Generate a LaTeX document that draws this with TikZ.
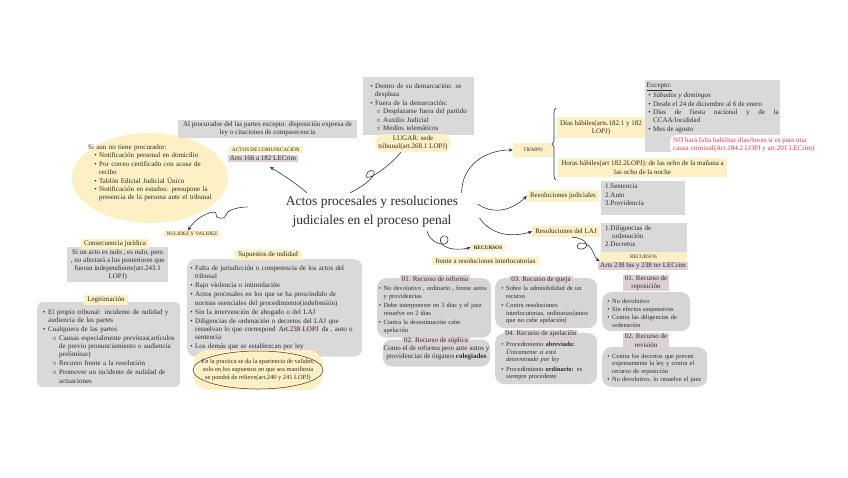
\documentclass[tikz,border=0pt]{standalone}
\usepackage{fontspec}
\setmainfont{Liberation Serif}
\usetikzlibrary{shapes.geometric,arrows.meta,decorations.pathreplacing}

\definecolor{ybg}{HTML}{FCF0C4}
\definecolor{gbg}{HTML}{D9D9D9}
\definecolor{rbg}{HTML}{D7D4D4}
\definecolor{pbg}{HTML}{DDD0D5}
\definecolor{txt}{HTML}{2B2B2B}
\definecolor{nred}{HTML}{E4384F}
\definecolor{lnk}{HTML}{333333}

\newcommand{\fs}{\fontsize{7}{8.2}\selectfont}
\newcommand{\fsr}{\fontsize{6.4}{7.5}\selectfont}
\newcommand{\fcap}{\fontsize{5.2}{7}\selectfont}
\newlength{\bw}
\setlength{\bw}{8pt}
\newlength{\sw}
\setlength{\sw}{16pt}
\newlength{\isp}
\setlength{\isp}{0.6pt}
\newcommand{\bitem}[1]{\par\vspace{\isp}\noindent\hangindent=\bw\hangafter=1\hbox to \bw{\hss\textbullet\hspace{2.5pt}}#1}
\newcommand{\sitem}[1]{\par\vspace{\isp}\noindent\hangindent=\sw\hangafter=1\hbox to \sw{\hss$\circ$\hspace{2.5pt}}#1}
\newcommand{\padb}[1]{\par\nointerlineskip\vbox to #1{}}

\begin{document}
\begin{tikzpicture}[x=1pt, y=-1pt, font=\fs,
    every node/.append style={text=txt},
    ylab/.style={fill=ybg, inner xsep=3pt, inner ysep=1.5pt},
    plab/.style={fill=pbg, inner xsep=2pt, inner ysep=1pt},
    gbox/.style={fill=gbg, anchor=north west, align=left, inner sep=3pt},
    rbox/.style={fill=rbg, anchor=north west, align=left, inner sep=3pt, rounded corners=9pt, font=\fsr},
    arr/.style={draw=lnk, line width=0.6pt, -{Stealth[length=4pt, width=3.5pt]}},
    hand/.style={draw=lnk, line width=0.5pt}]

  \useasboundingbox (0,0) rectangle (848,477);
  \fill[white] (0,0) rectangle (848,477);

  \node[ellipse, fill=ybg, minimum width=156pt, minimum height=90pt] (procell) at (150,178) {};
  \node[anchor=north west, text width=134pt, align=left, inner sep=3pt] (proctxt) at (85,141) {\setlength{\bw}{11pt}\setlength{\isp}{0.4pt}Si aun no tiene procurador:
    \bitem{Notificación personal en domicilio}
    \bitem{Por correo certificado con acuse de\newline recibo}
    \bitem{Tablón Edictal Judicial Único}
    \bitem{Notificación en estados: presupone la\newline presencia de la persona ante el tribunal}\par};

  \node[gbox, anchor=center, align=center, minimum width=179pt, minimum height=18pt, inner ysep=1pt] (procur) at (267.5,129) {Al procurador del las partes excepto: disposición expresa de\\ley o citaciones de comparecencia};
  \node[ylab] (actos) at (266,149.5) {\fcap ACTOS DE COMUNICACIÓN};
  \node[plab] (actosart) at (263,158.5) {Arts 166 a 182 LECrim};

  \node[gbox, text width=105pt] (lugarlist) at (363,77) {\setlength{\bw}{9pt}\setlength{\sw}{17pt}\setlength{\isp}{0.2pt}
    \bitem{Dentro de su demarcación: se\newline desplaza}
    \bitem{Fuera de la demarcación:}
    \sitem{Desplazarse fuera del partido}
    \sitem{Auxilio Judicial}
    \sitem{Medios telemáticos}\padb{2pt}};
  \node[ylab, rounded corners=8pt, minimum width=70pt, minimum height=18pt, align=center, inner ysep=1pt] (lugar) at (413,143) {LUGAR: sede\\tribunal(art.268.1 LOPJ)};

  \node[align=center, font=\fontsize{13.5}{19}\selectfont] (title) at (372,212) {Actos procesales y resoluciones\\judiciales en el proceso penal};

  \node[ylab] (nulidad) at (192,234) {\fcap NULIDEZ Y VALIDEZ};
  \node[gbox, align=center, minimum width=101pt, inner xsep=2pt, inner ysep=2pt] (conseq) at (67,247) {Si un acto es nulo , es nulo, pero\\, no afectará a los posteriores que\\fueran independiente(art.243.1\\LOPJ)};
  \node[ylab] (conslab) at (115,244) {Consecuencia jurídica};

  \node[gbox, rounded corners=5pt, text width=139pt, inner xsep=2pt] (legit) at (37,302) {\setlength{\bw}{9pt}\setlength{\sw}{20pt}\setlength{\isp}{0.8pt}
    \bitem{El propio tribunal: incidente de nulidad y\newline audiencia de las partes}
    \bitem{Cualquiera de las partes}
    \sitem{Causas especialmente previstas(artículos\newline de previo pronunciamiento o audiencia\newline preliminar)}
    \sitem{Recurso frente a la resolución}
    \sitem{Promover un incidente de nulidad de\newline actuaciones}\padb{1pt}};
  \node[ylab] (legilab) at (106,300) {Legitimación};

  \node[gbox, rounded corners=8pt, text width=173pt, inner xsep=1pt, inner ysep=2.5pt] (supu) at (187,259) {\setlength{\bw}{7pt}\setlength{\isp}{0.8pt}\setlength{\fboxsep}{0.8pt}
    \bitem{Falta de jurisdicción o competencia de los actos del\newline tribunal}
    \bitem{Bajo violencia o intimidación}
    \bitem{Actos procesales en los que se ha prescindido de\newline normas esenciales del procedimiento(indefensión)}
    \bitem{Sin la intervención de abogado o del LAJ}
    \bitem{Diligencias de ordenación o decretos del LAJ que\newline resuelvan lo que correspond \colorbox{pbg}{Art.238 LOPJ} da , auto o\newline sentencia}
    \bitem{Los demás que \underline{se establezcan} \underline{por ley}}\padb{2pt}};
  \node[ylab] (supulab) at (268,255) {Supuestos de nulidad};

  \node[ylab, rounded corners=14pt, minimum width=129pt, minimum height=40pt, align=center, inner ysep=1pt, font=\fontsize{6.4}{8.4}\selectfont] (practica) at (258,370) {En la practica se da la apariencia de validez,\\solo en los supuestos en que sea manifiesta\\se pondrá de relieve(art.240 y 241 LOPJ)};
  \draw[hand] (practica.center) ellipse (65pt and 19pt);

  \node[ylab] (recur) at (488,247.5) {\fcap\bfseries RECURSOS};
  \node[ylab] (interloc) at (485.5,261) {frente a resoluciones interlocutorias};

  \node[rbox, text width=112pt, inner xsep=1pt] (reforma) at (377,278) {\setlength{\bw}{5.5pt}\setlength{\isp}{2pt}
    \bitem{No devolutivo , ordinario , frente autos\newline y providencias}
    \bitem{Debe interponerse en 3 días y el juez\newline resuelve en 2 días}
    \bitem{Contra la desestimación cabe\newline apelación}\padb{1pt}};
  \node[plab] (reflab) at (435,279) {01. Recurso de reforma};

  \node[rbox, anchor=center, align=center, font=\fs, minimum width=103pt, minimum height=27pt, inner xsep=1pt, inner ysep=1pt] (suplica) at (436.5,353) {Como el de reforma pero ante autos y\\providencias de órganos \textbf{colegiados}};
  \node[plab] (suplab) at (436,340.5) {02. Recurso de súplica};

  \node[rbox, text width=100pt, inner xsep=1pt] (queja) at (495,278) {\setlength{\bw}{10pt}\setlength{\isp}{2pt}
    \bitem{Sobre la admisibilidad de un\newline recurso}
    \bitem{Contra resoluciones\newline interlocutorias, ordinarias(autos\newline que no cabe apelación)}\padb{1pt}};
  \node[plab] (quejalab) at (541,280) {03. Recurso de queja};

  \node[rbox, text width=100pt, inner xsep=1pt, inner ysep=4pt] (apela) at (495,333) {\setlength{\bw}{10pt}\setlength{\isp}{2pt}
    \bitem{Procedimiento \textbf{abreviado:}\newline\textit{Únicamente si está}\newline\textit{determinado por ley}}
    \bitem{Procedimiento \textbf{ordinario:} es\newline siempre procedente}\par};
  \node[plab] (apelalab) at (541,334) {04. Recurso de apelación};

  \node[ylab, minimum width=40pt, minimum height=14pt] (tiempo) at (533,150) {\fcap TIEMPO};
  \draw[draw=lnk, line width=0.7pt, decorate, decoration={brace, amplitude=4pt}] (556,180) -- (556,108);
  \node[ylab, align=center, minimum width=82pt, minimum height=21pt, inner ysep=1pt] (habdias) at (601,127.5) {Días hábiles(arts.182.1 y 182\\LOPJ)};
  \node[gbox, align=justify, text width=132pt, inner xsep=1.5pt] (excepto) at (645,80) {\setlength{\bw}{6.5pt}\setlength{\isp}{0.4pt}\underline{Excepto:}
    \bitem{\textit{Sábados y domingos}}
    \bitem{Desde el 24 de diciembre al 6 de enero}
    \bitem{Días de fiesta nacional y de la CCAA/localidad}
    \bitem{Mes de agosto}\padb{16pt}};
  \node[fill=white, rounded corners=5pt, anchor=north west, align=left, minimum width=143pt, inner xsep=3pt, inner ysep=2pt, text=nred] (nota) at (670,135) {NO hará falta habilitar días/horas si es para una\\causa criminal(Art.184.2 LOPJ y art.201 LECrim)};
  \node[ylab, align=center, minimum width=161pt, minimum height=19pt, inner ysep=1pt] (habhoras) at (642.5,167.5) {Horas hábiles(art 182.2LOPJ): de las ocho de la mañana a\\las ocho de la noche};

  \node[ylab, minimum height=12pt] (resjud) at (563,196) {Resoluciones judiciales};
  \node[gbox, text width=76pt, inner xsep=4pt] (sentbox) at (601,181) {1.Sentencia\par 2.Auto\par 3.Providencia\padb{7pt}};
  \node[ylab, minimum height=11pt] (reslaj) at (566,231.5) {Resoluciones del LAJ};
  \node[gbox, text width=78pt, inner xsep=4pt, inner ysep=2.5pt] (diligbox) at (601,223) {\hangindent=7pt\hangafter=1 1.Diligencias de\newline ordenación\par 2.Decretos\padb{3pt}};
  \node[ylab, anchor=north, minimum width=87pt, text height=5pt, text depth=10pt] (recurlaj) at (643.5,252) {\fcap RECURSOS};
  \node[plab] (recurlajart) at (643,266) {Arts 238 bis y 238 ter LECrim};

  \node[plab, align=center] (repolab) at (646,283) {01. Recurso de\\reposición};
  \node[rbox, text width=86pt, inner xsep=1pt] (repo) at (602,292) {\setlength{\bw}{9pt}\setlength{\isp}{0.6pt}
    \bitem{No devolutivo}
    \bitem{Sin efectos suspensivos}
    \bitem{Contra las diligencias de\newline ordenación}\padb{1pt}};
  \node[plab, align=center] (revilab) at (646,340.5) {02. Recurso de\\revisión};
  \node[rbox, text width=103pt, inner xsep=1pt] (revi) at (602,347) {\setlength{\bw}{9pt}\setlength{\isp}{0.6pt}
    \bitem{Contra los decretos que preven\newline expresamente la ley y contra el\newline recurso de reposición}
    \bitem{No devolutivo, lo resuelve el juez}\padb{1pt}};

  \draw[arr] ([xshift=-65pt]title.north) .. controls (298,185) and (285,176) .. ([xshift=7pt,yshift=-5pt]actosart.south);
  \draw[hand, line width=0.6pt] ([xshift=-22pt]title.north) .. controls (360,188) and (372,180) .. (374,174) .. controls (376,168) and (366,170) .. (366,176) .. controls (366,182) and (388,168) .. ([xshift=-12pt]lugar.south);
  \draw[arr] (title.north east) .. controls (462,165) and (485,150) .. (tiempo.west);
  \draw[arr] ([xshift=16pt,yshift=8pt]title.east) .. controls (492,214) and (510,212) .. (resjud.west);
  \draw[arr] ([xshift=18pt,yshift=-6pt]title.east) .. controls (490,234) and (510,238) .. (reslaj.west);
  \draw[arr] ([xshift=55pt]title.south) .. controls (430,244) and (448,248) .. (448,240) .. controls (448,232) and (436,236) .. (442,244) .. controls (447,250) and (460,250) .. (recur.west);
  \draw[arr] ([xshift=-35pt,yshift=5pt]title.west) .. controls (236,207) and (226,211) .. (226,215) .. controls (226,220) and (214,219) .. (216,214) .. controls (218,209) and (198,214) .. ([xshift=-4pt]nulidad.north);
  \draw[arr] ([xshift=6pt]reslaj.south) .. controls (588,238) and (590,248) .. (582,249) .. controls (574,250) and (576,240) .. (586,244) .. controls (594,248) and (594,258) .. (recurlaj.west);
\end{tikzpicture}
\end{document}
